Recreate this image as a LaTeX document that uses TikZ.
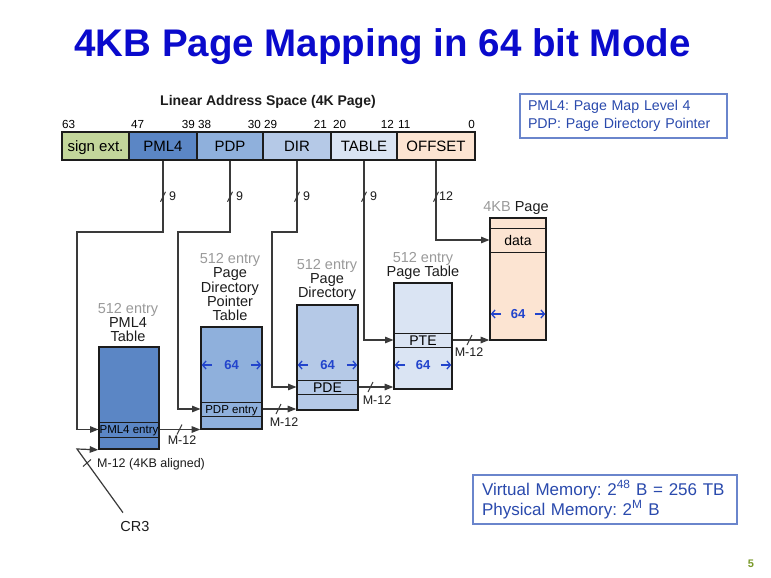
\documentclass[tikz,border=0pt]{standalone}
\usepackage{fontspec}
\setmainfont{Liberation Sans}
\usetikzlibrary{arrows.meta,calc}
\definecolor{titleblue}{HTML}{0A0ACC}
\definecolor{edge}{HTML}{1C1C1C}
\definecolor{linec}{HTML}{3A3A3A}
\definecolor{cse}{HTML}{C3D69B}
\definecolor{cpml}{HTML}{5B86C5}
\definecolor{cpdp}{HTML}{8FB0DC}
\definecolor{cdir}{HTML}{B5C9E7}
\definecolor{ctab}{HTML}{DAE4F3}
\definecolor{coff}{HTML}{FCE4D2}
\definecolor{greytxt}{HTML}{9A9A9A}
\definecolor{wblue}{HTML}{2244CC}
\definecolor{legborder}{HTML}{6A85CC}
\definecolor{legtext}{HTML}{2A4AAD}
\definecolor{pgreen}{HTML}{7A9A2A}
\frenchspacing
\begin{document}
\begin{tikzpicture}[x=1pt,y=-1pt,
  field/.style={draw=edge, line width=1.5pt, minimum height=28pt, inner sep=0pt,
    text height=10.7pt, text depth=0pt, font=\fontsize{15}{17}\selectfont},
  bitl/.style={font=\fontsize{11.7}{13}\selectfont, inner sep=0pt},
  tbl/.style={draw=edge, line width=1.6pt, inner sep=0pt},
  rowbox/.style={draw=edge, line width=1pt, inner sep=0pt, text depth=0pt},
  rowsmall/.style={rowbox, text height=8.2pt, font=\fontsize{11.5}{13}\selectfont},
  rowbig/.style={rowbox, text height=10pt, font=\fontsize{14}{16}\selectfont},
  tlabel/.style={align=center, anchor=south, inner sep=0pt, text=edge,
    font=\fontsize{14.5}{14.3}\selectfont},
  conn/.style={draw=linec, line width=1.2pt},
  arr/.style={conn, -{Triangle[length=8.5pt,width=6.5pt]}},
  slashmark/.style={draw=linec, line width=1pt},
  numl/.style={font=\fontsize{12.5}{14}\selectfont, inner sep=0pt, anchor=base west, text=edge},
  mlbl/.style={font=\fontsize{12.5}{14}\selectfont, inner sep=0pt, anchor=base, text=edge},
  wnum/.style={font=\fontsize{13}{15}\selectfont\bfseries, text=wblue, inner sep=0pt,
    text height=9.3pt, text depth=0pt},
  warr/.style={draw=wblue, line width=1.3pt, -{Straight Barb[length=3.5pt,width=8pt]}},
  legbox/.style={draw=legborder, line width=1.2pt, align=left, text=legtext}
]
\fill[white] (0,0) rectangle (771,578);
\useasboundingbox (0,0) rectangle (771,578);

% title
\node[font=\fontsize{38.5}{40}\selectfont\bfseries, text=titleblue, anchor=base, inner sep=0pt]
  (title) at (382.5,57) {4KB Page Mapping in 64 bit Mode};

\node[font=\fontsize{14}{16}\selectfont\bfseries, anchor=base, inner sep=0pt, text=edge]
  (las) at (268,105) {Linear Address Space (4K Page)};

% address fields
\node[field, fill=cse,  minimum width=67pt] (se)   at (95.5,146) {sign ext.};
\node[field, fill=cpml, minimum width=68pt] (pml4) at (163,146) {PML4};
\node[field, fill=cpdp, minimum width=66pt] (pdp)  at (230,146) {PDP};
\node[field, fill=cdir, minimum width=68pt] (dir)  at (297,146) {DIR};
\node[field, fill=ctab, minimum width=66pt] (tab)  at (364,146) {TABLE};
\node[field, fill=coff, minimum width=78pt] (off)  at (436,146) {OFFSET};

% bit numbers
\node[bitl, anchor=base west] (b63) at (62,128) {63};
\node[bitl, anchor=base west] (b47) at (131,128) {47};
\node[bitl, anchor=base east] (b39) at (195,128) {39};
\node[bitl, anchor=base west] (b38) at (198,128) {38};
\node[bitl, anchor=base east] (b30) at (261,128) {30};
\node[bitl, anchor=base west] (b29) at (264,128) {29};
\node[bitl, anchor=base east] (b21) at (327,128) {21};
\node[bitl, anchor=base west] (b20) at (333,128) {20};
\node[bitl, anchor=base east] (b12) at (394,128) {12};
\node[bitl, anchor=base west] (b11) at (398,128) {11};
\node[bitl, anchor=base east] (b0)  at (475,128) {0};

% tables
\node[tbl, fill=cpml, minimum width=60pt, minimum height=102pt] (t1) at (129,398) {};
\node[rowsmall, minimum width=60pt, minimum height=15pt] (e1) at (129,429.5) {PML4 entry};
\node[tbl, fill=cpdp, minimum width=61pt, minimum height=102pt] (t2) at (231.5,378) {};
\node[rowsmall, minimum width=61pt, minimum height=14pt] (e2) at (231.5,409) {PDP entry};
\node[tbl, fill=cdir, minimum width=61pt, minimum height=105pt] (t3) at (327.5,357.5) {};
\node[rowbig, minimum width=61pt, minimum height=14pt] (e3) at (327.5,387) {PDE};
\node[tbl, fill=ctab, minimum width=58pt, minimum height=106pt] (t4) at (423,336) {};
\node[rowbig, minimum width=58pt, minimum height=14pt] (e4) at (423,340) {PTE};
\node[tbl, fill=coff, minimum width=56pt, minimum height=122pt] (t5) at (518,279) {};
\node[rowbig, minimum width=56pt, minimum height=24pt] (e5) at (518,240) {data};

% table labels
\node[tlabel] (l1) at (128,342) {\textcolor{greytxt}{512 entry}\\PML4\\Table};
\node[tlabel] (l2) at (230,321) {\textcolor{greytxt}{512 entry}\\Page\\Directory\\Pointer\\Table};
\node[tlabel] (l3) at (327,301) {\textcolor{greytxt}{512 entry}\\Page\\Directory};
\node[tlabel] (l4) at (423,280) {\textcolor{greytxt}{512 entry}\\Page Table};
\node[tlabel] (l5) at (516,215) {\textcolor{greytxt}{4KB} Page};

% 64-bit widths
\node[wnum] (w2) at (231.5,365) {64};
\node[wnum] (w3) at (327.5,365) {64};
\node[wnum] (w4) at (423,365) {64};
\node[wnum] (w5) at (518,314) {64};
\foreach \t/\w in {t2/w2, t3/w3, t4/w4, t5/w5} {
  \draw[warr] ($(\t.west |- \w)+(12,0)$) -- ($(\t.west |- \w)+(1.5,0)$);
  \draw[warr] ($(\t.east |- \w)+(-12,0)$) -- ($(\t.east |- \w)+(-1.5,0)$);
}

% bends
\coordinate (k1) at (77,232);
\coordinate (k2) at (178,232);
\coordinate (k3) at (272,232);

% index connectors
\draw[arr] (pml4.south) |- (k1) |- (e1.west);
\draw[arr] (pdp.south) |- (k2) |- (e2.west);
\draw[arr] (dir.south) |- (k3) |- (e3.west);
\draw[arr] (tab.south) |- (e4.west);
\draw[arr] (off.south) |- (e5.west);

\foreach \f in {pml4, pdp, dir, tab, off} {
  \draw[slashmark] ($(\f.south)+(-2.5,41)$) -- ++(5,-10);
}
\node[numl] (n1) at ($(pml4.south)+(6,39.5)$) {9};
\node[numl] (n2) at ($(pdp.south)+(6,39.5)$) {9};
\node[numl] (n3) at ($(dir.south)+(6,39.5)$) {9};
\node[numl] (n4) at ($(tab.south)+(6,39.5)$) {9};
\node[numl] (n5) at ($(off.south)+(3,39.5)$) {12};

% table-to-table connectors
\draw[arr] (e1.east) -- (e1.east -| t2.west);
\draw[arr] (e2.east) -- (e2.east -| t3.west);
\draw[arr] (e3.east) -- (e3.east -| t4.west);
\draw[arr] (e4.east) -- (e4.east -| t5.west);
\draw[slashmark] ($(e1.east)+(17.5,5)$) -- ++(5,-10);
\draw[slashmark] ($(e2.east)+(13.5,5)$) -- ++(5,-10);
\draw[slashmark] ($(e3.east)+(9.5,5)$) -- ++(5,-10);
\draw[slashmark] ($(e4.east)+(14.5,5)$) -- ++(5,-10);
\node[mlbl] (m1) at (182,444.5) {M-12};
\node[mlbl] (m2) at (284,426.5) {M-12};
\node[mlbl] (m3) at (377,404.5) {M-12};
\node[mlbl] (m4) at (469,356.5) {M-12};

% CR3
\node[font=\fontsize{14.5}{16}\selectfont, inner sep=0pt, text=edge] (cr3) at (135,527) {CR3};
\coordinate (k0) at (77,449);
\draw[arr] ($(cr3.north)+(-12,-9)$) -- (k0) -- (t1.south west);
\draw[slashmark] (83,466.5) -- (91,459.5);
\node[font=\fontsize{12.5}{14}\selectfont, inner sep=0pt, anchor=base west, text=edge]
  (cr3l) at (97,467.5) {M-12 (4KB aligned)};

% legends
\node[legbox, minimum width=207pt, minimum height=44pt, inner xsep=8pt, text width=191pt,
  font=\fontsize{14.2}{18}\selectfont] (leg1) at (623.5,116)
  {PML4: Page Map Level 4\\PDP: Page Directory Pointer};
\node[legbox, minimum width=264pt, minimum height=49pt, inner xsep=9pt, text width=246pt,
  font=\fontsize{17}{20}\selectfont] (leg2) at (605,499.5)
  {Virtual Memory: 2\textsuperscript{48} B = 256 TB\\Physical Memory: 2\textsuperscript{M} B};

\node[font=\fontsize{11}{12}\selectfont\bfseries, text=pgreen, inner sep=0pt] (pnum) at (751,564) {5};
\end{tikzpicture}
\end{document}
